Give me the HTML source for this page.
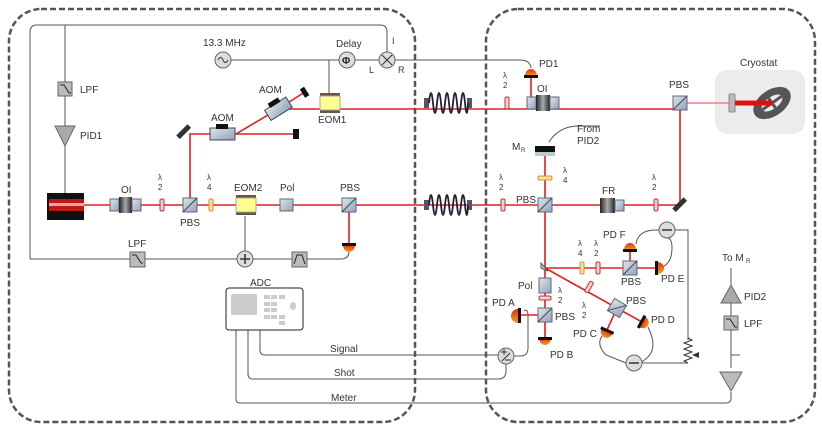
<!DOCTYPE html>
<html><head><meta charset="utf-8"><style>
html,body{margin:0;padding:0;background:#fff}
svg{display:block;font-family:"Liberation Sans",sans-serif}
</style></head><body>
<svg width="822" height="431" viewBox="0 0 822 431" xmlns="http://www.w3.org/2000/svg">
<defs>
<linearGradient id="pd" x1="0" y1="0" x2="0" y2="1"><stop offset="0" stop-color="#e03010"/><stop offset="1" stop-color="#f0a020"/></linearGradient>
<linearGradient id="cube" x1="0" y1="0" x2="1" y2="1"><stop offset="0" stop-color="#dfe6ee"/><stop offset="1" stop-color="#8ea3b8"/></linearGradient>
<linearGradient id="blk" x1="0" y1="0" x2="1" y2="0"><stop offset="0" stop-color="#222"/><stop offset=".5" stop-color="#aaa"/><stop offset="1" stop-color="#222"/></linearGradient>
<g id="cb"><rect x="-7" y="-7" width="14" height="14" fill="url(#cube)" stroke="#667"/><line x1="-7" y1="7" x2="7" y2="-7" stroke="#445" stroke-width="1"/></g>
<g id="wp2"><rect x="-2" y="-6" width="4" height="12" rx="1.5" fill="#f8d0d0" stroke="#c03030"/></g>
<g id="wp4"><rect x="-2" y="-6" width="4" height="12" rx="1.5" fill="#ffe0a0" stroke="#d09030"/></g>
<g id="pdl"><path d="M-6 0 h12 a6 7 0 0 1 -12 0z" fill="url(#pd)"/><rect x="-7" y="-2" width="14" height="3" fill="#111"/></g>
<g id="fiber"><rect x="-24" y="-5" width="5" height="10" fill="#556"/><rect x="19" y="-5" width="5" height="10" fill="#556"/><path d="M-19 0 q2 -20 4 0 q2 20 4 0 q2 -20 4 0 q2 20 4 0 q2 -20 4 0 q2 20 4 0 q2 -20 4 0 q2 20 4 0 q2 -20 4 0 q2 20 3 0" fill="none" stroke="#223" stroke-width="1.8"/></g>
<g id="eom"><rect x="-10" y="-10" width="20" height="3" fill="#654"/><rect x="-10" y="7" width="20" height="3" fill="#654"/><rect x="-10" y="-7" width="20" height="14" fill="#ffff90" stroke="#aa9"/></g>
</defs>
<rect x="9" y="9" width="406" height="413" rx="32" fill="none" stroke="#555" stroke-width="2.5" stroke-dasharray="6,3"/>
<rect x="486" y="9" width="329" height="413" rx="32" fill="none" stroke="#555" stroke-width="2.5" stroke-dasharray="6,3"/>
<rect x="715" y="70" width="90" height="64" rx="12" fill="#ececec"/>
<g fill="none" stroke="#555" stroke-width="1">
<path d="M30 259 V32 q0 -7 7 -7 H380 q7 0 7 7 V52"/>
<path d="M65 25 V193"/>
<path d="M231 60 H379 M329 60 V93"/>
<path d="M395 60 H520 q10 0 11 8"/>
<path d="M30 259 H341 q8 0 8 -8"/>
<path d="M245 216 V259"/>
<path d="M549 142 q10 -16 30 -16 H600"/>
<path d="M636 244 q2 -14 20 -14 H659 M675 230 H688 V340"/>
<path d="M660 268 q12 -4 12 -20 q0 -10 -5 -10"/>
<path d="M648 327 q10 20 0 30 l-6 5 M626 363 q-10 -4 -20 -8 q-10 -10 -4 -19"/>
<path d="M642 363 H688"/>
<path d="M740 355 H731 V268 M731 355 V368"/>
<path d="M731 392 V398 q0 5 -5 5 H240 q-4 0 -4 -4 V330"/>
<path d="M248 330 V374 q0 5 5 5 H498 q8 0 8 -8 V364"/>
<path d="M260 330 V350 q0 5 5 5 H498"/>
<path d="M514 356 H520 q8 0 8 -8 V316 q0 -8 -4 -5"/>
</g>
<path d="M688 338 l4 2 l-8 3 l8 3 l-8 3 l8 3 l-8 3 l8 3 l-8 3 l4 2" fill="none" stroke="#333"/>
<path d="M692 355 l7 -3 v6 z" fill="#333"/>
<g stroke="#e02020" stroke-width="1.6" fill="none">
<path d="M84 205 H680"/>
<path d="M190 205 V134 H296"/>
<path d="M236 134 L278 109 L305 92"/>
<path d="M278 109 H680 M531 103 V78"/>
<path d="M680 103 V205 M545 150 V268 M545 268 H655 M630 268 V250 M545 268 L642 322 M617 308 L607 330 M545 268 V338 M545 315 H518"/>
<path d="M349 205 V245"/>
</g>
<path d="M680 103 H732" stroke="#f08080" stroke-width="1.5"/>
<path d="M735 103 H772" stroke="#e01010" stroke-width="5"/>
<rect x="47" y="193" width="37" height="27" fill="#111"/>
<rect x="49" y="199" width="35" height="12" fill="#c01818"/><rect x="49" y="203" width="35" height="3" fill="#f0a0a0"/>
<rect x="58" y="82" width="14" height="14" fill="#bbb" stroke="#666"/><path d="M60 85 h4 l5 8 h2" stroke="#222" fill="none"/>
<text x="80" y="93" font-size="10" fill="#333">LPF</text>
<path d="M55 126 H75 L65 146 Z" fill="#aaa" stroke="#666"/><text x="80" y="139" font-size="10" fill="#333">PID1</text>
<rect x="110" y="199" width="9" height="12" fill="url(#cube)" stroke="#667"/><rect x="119" y="197" width="13" height="16" fill="url(#blk)"/><rect x="132" y="199" width="9" height="12" fill="url(#cube)" stroke="#667"/>
<text x="121" y="193" font-size="10" fill="#333">OI</text>
<use href="#wp2" x="162" y="205"/><text x="158" y="180" font-size="8" fill="#333">λ</text><text x="158" y="190" font-size="8" fill="#333">2</text>
<use href="#cb" x="190" y="205"/><text x="180" y="226" font-size="10" fill="#333">PBS</text>
<use href="#wp4" x="211" y="205"/><text x="207" y="180" font-size="8" fill="#333">λ</text><text x="207" y="190" font-size="8" fill="#333">4</text>
<use href="#eom" x="246" y="205"/><text x="234" y="191" font-size="10" fill="#333">EOM2</text>
<rect x="280" y="199" width="13" height="12" fill="url(#cube)" stroke="#667"/><text x="280" y="191" font-size="10" fill="#333">Pol</text>
<use href="#cb" x="349" y="205"/><text x="340" y="191" font-size="10" fill="#333">PBS</text>
<use href="#pdl" x="349" y="245"/>
<rect x="181" y="124" width="5" height="16" fill="#333" transform="rotate(45 184 132)"/>
<rect x="210" y="128" width="25" height="12" fill="url(#cube)" stroke="#445"/><rect x="216" y="124" width="12" height="5" fill="#111"/>
<text x="211" y="121" font-size="10" fill="#333">AOM</text>
<rect x="293" y="129" width="6" height="10" fill="#111"/>
<g transform="rotate(-32 278 109)"><rect x="266" y="103" width="25" height="12" fill="url(#cube)" stroke="#445"/><rect x="272" y="99" width="12" height="5" fill="#111"/></g>
<text x="259" y="93" font-size="10" fill="#333">AOM</text>
<rect x="302" y="87" width="5" height="10" fill="#111" transform="rotate(-32 305 92)"/>
<use href="#eom" x="330" y="103"/><text x="318" y="123" font-size="10" fill="#333">EOM1</text>
<circle cx="223" cy="60" r="8" fill="#ddd" stroke="#666"/><path d="M218 60 q2.5 -5 5 0 q2.5 5 5 0" fill="none" stroke="#333"/>
<text x="203" y="46" font-size="10" fill="#333">13.3 MHz</text>
<circle cx="347" cy="60" r="8" fill="#ddd" stroke="#666"/><text x="342" y="64" font-size="10" font-weight="bold" fill="#222">Φ</text>
<text x="336" y="47" font-size="10" fill="#333">Delay</text>
<circle cx="387" cy="60" r="8" fill="#ddd" stroke="#666"/><path d="M382 55 l10 10 m0 -10 l-10 10" stroke="#333"/>
<text x="369" y="73" font-size="9" fill="#333">L</text><text x="398" y="73" font-size="9" fill="#333">R</text><text x="392" y="44" font-size="9" fill="#333">I</text>
<rect x="130" y="252" width="15" height="15" fill="#bbb" stroke="#666"/><path d="M132 255 h4 l5 8 h2" stroke="#222" fill="none"/>
<text x="128" y="247" font-size="10" fill="#333">LPF</text>
<circle cx="245" cy="259" r="8" fill="#ddd" stroke="#666"/><path d="M240 259 h10 M245 254 v10" stroke="#333" stroke-width="1.5"/>
<rect x="292" y="252" width="15" height="15" fill="#bbb" stroke="#666"/><path d="M294 264 l3 -9 h5 l3 9" stroke="#222" fill="none"/>
<text x="250" y="286" font-size="10" fill="#333">ADC</text>
<rect x="226" y="288" width="77" height="42" rx="3" fill="#fff" stroke="#222"/>
<rect x="231" y="294" width="26" height="21" rx="2" fill="#ccc"/>
<g fill="#ccc"><rect x="264" y="295" width="6" height="4"/><rect x="271" y="295" width="6" height="4"/><rect x="279" y="295" width="6" height="4"/><rect x="264" y="302" width="6" height="4"/><rect x="271" y="302" width="6" height="4"/><rect x="264" y="308" width="6" height="4"/><rect x="271" y="308" width="6" height="4"/><rect x="264" y="315" width="6" height="4"/><rect x="271" y="315" width="6" height="4"/><rect x="279" y="315" width="6" height="4"/><rect x="279" y="321" width="6" height="4"/><ellipse cx="293" cy="306" rx="3" ry="4"/></g>
<text x="330" y="352" font-size="10" fill="#333">Signal</text>
<text x="334" y="376" font-size="10" fill="#333">Shot</text>
<text x="331" y="401" font-size="10" fill="#333">Meter</text>
<use href="#fiber" x="448" y="103"/><use href="#fiber" x="448" y="205"/>
<use href="#wp2" x="507" y="103"/><text x="503" y="78" font-size="8" fill="#333">λ</text><text x="503" y="88" font-size="8" fill="#333">2</text>
<rect x="527" y="97" width="9" height="12" fill="url(#cube)" stroke="#667"/><rect x="536" y="95" width="14" height="16" fill="url(#blk)"/><rect x="550" y="97" width="9" height="12" fill="url(#cube)" stroke="#667"/>
<text x="537" y="92" font-size="10" fill="#333">OI</text>
<path d="M525 76 a6 7 0 0 1 12 0z" fill="url(#pd)"/><rect x="524" y="75" width="14" height="3" fill="#111"/>
<text x="539" y="67" font-size="10" fill="#333">PD1</text>
<use href="#cb" x="680" y="103"/><text x="669" y="88" font-size="10" fill="#333">PBS</text>
<rect x="729" y="94" width="6" height="18" rx="1" fill="#bbb" stroke="#888"/>
<g transform="rotate(-35 772 103)"><ellipse cx="772" cy="103" rx="21" ry="13" fill="#555"/><ellipse cx="772" cy="103" rx="12" ry="6" fill="#ececec"/><path d="M760 103 H784 M772 97 V109" stroke="#555" stroke-width="3"/></g>
<path d="M735 103 H772" stroke="#e01010" stroke-width="5"/>
<text x="740" y="66" font-size="10" fill="#333">Cryostat</text>
<use href="#wp2" x="503" y="205"/><text x="499" y="180" font-size="8" fill="#333">λ</text><text x="499" y="190" font-size="8" fill="#333">2</text>
<use href="#cb" x="545" y="205"/><text x="516" y="203" font-size="10" fill="#333">PBS</text>
<rect x="535" y="146" width="20" height="8" fill="#111"/><rect x="535" y="152" width="20" height="4" fill="#bcc"/>
<text x="512" y="150" font-size="10" fill="#333">M</text><text x="521" y="152" font-size="6" fill="#333">R</text>
<text x="577" y="132" font-size="10" fill="#333">From</text><text x="577" y="144" font-size="10" fill="#333">PID2</text>
<rect x="538" y="176" width="14" height="4" rx="1.5" fill="#ffe0a0" stroke="#d09030"/><text x="563" y="173" font-size="8" fill="#333">λ</text><text x="563" y="183" font-size="8" fill="#333">4</text>
<rect x="600" y="198" width="15" height="15" fill="url(#blk)"/><rect x="615" y="200" width="9" height="11" fill="url(#cube)" stroke="#667"/>
<text x="602" y="194" font-size="10" fill="#333">FR</text>
<use href="#wp2" x="656" y="205"/><text x="652" y="180" font-size="8" fill="#333">λ</text><text x="652" y="190" font-size="8" fill="#333">2</text>
<rect x="677" y="197" width="5" height="16" fill="#333" transform="rotate(45 680 205)"/>
<path d="M541 263 l7 8 l-7 -3z" fill="#bcc" stroke="#556"/>
<use href="#wp4" x="582" y="268"/><use href="#wp2" x="598" y="268"/>
<text x="578" y="246" font-size="8" fill="#333">λ</text><text x="578" y="256" font-size="8" fill="#333">4</text><text x="594" y="246" font-size="8" fill="#333">λ</text><text x="594" y="256" font-size="8" fill="#333">2</text>
<use href="#cb" x="630" y="268"/><text x="621" y="285" font-size="10" fill="#333">PBS</text>
<path d="M624 250 a6 7 0 0 1 12 0z" fill="url(#pd)"/><rect x="623" y="249" width="14" height="3" fill="#111"/><text x="603" y="238" font-size="10" fill="#333">PD F</text>
<path d="M657 262 a7 6 0 0 1 0 12z" fill="url(#pd)"/><rect x="655" y="261" width="3" height="14" fill="#111"/><text x="661" y="282" font-size="10" fill="#333">PD E</text>
<circle cx="667" cy="230" r="8" fill="#ddd" stroke="#666"/><path d="M662 230 h10" stroke="#333" stroke-width="1.5"/>
<rect x="587" y="281" width="4" height="12" rx="1.5" fill="#f8d0d0" stroke="#c03030" transform="rotate(30 589 287)"/>
<text x="582" y="308" font-size="8" fill="#333">λ</text><text x="582" y="318" font-size="8" fill="#333">2</text>
<g transform="rotate(30 617 308)"><use href="#cb" x="617" y="308"/></g><text x="626" y="304" font-size="10" fill="#333">PBS</text>
<use href="#pdl" transform="translate(642 322) rotate(-61)"/>
<text x="651" y="323" font-size="10" fill="#333">PD D</text>
<use href="#pdl" transform="translate(607 331) rotate(24)"/>
<text x="573" y="337" font-size="10" fill="#333">PD C</text>
<circle cx="634" cy="363" r="8" fill="#ddd" stroke="#666"/><path d="M629 363 h10" stroke="#333" stroke-width="1.5"/>
<rect x="539" y="278" width="12" height="15" fill="url(#cube)" stroke="#667"/><text x="518" y="289" font-size="10" fill="#333">Pol</text>
<rect x="539" y="296" width="12" height="4" rx="1.5" fill="#f8d0d0" stroke="#c03030"/><text x="558" y="293" font-size="8" fill="#333">λ</text><text x="558" y="303" font-size="8" fill="#333">2</text>
<use href="#cb" x="545" y="315"/><text x="555" y="320" font-size="10" fill="#333">PBS</text>
<path d="M518 309 a7 7 0 0 0 0 14z" fill="url(#pd)"/><rect x="518" y="308" width="3" height="15" fill="#111"/><text x="492" y="306" font-size="10" fill="#333">PD A</text>
<path d="M539 338 a6 7 0 0 0 12 0z" fill="url(#pd)"/><rect x="538" y="337" width="14" height="3" fill="#111"/><text x="550" y="358" font-size="10" fill="#333">PD B</text>
<circle cx="506" cy="356" r="8" fill="#ddd" stroke="#666"/><path d="M501 352 h6 M504 349 v6 M502 361 l8 -8 M505 360 h6" stroke="#333"/>
<text x="722" y="261" font-size="10" fill="#333">To M</text><text x="746" y="263" font-size="6" fill="#333">R</text>
<path d="M721 303 L731 285 L741 303 Z" fill="#aaa" stroke="#666"/><text x="744" y="300" font-size="10" fill="#333">PID2</text>
<rect x="724" y="316" width="14" height="14" fill="#bbb" stroke="#666"/><path d="M726 319 h4 l5 8 h2" stroke="#222" fill="none"/><text x="744" y="327" font-size="10" fill="#333">LPF</text>
<path d="M720 372 H742 L731 391 Z" fill="#bbb" stroke="#666"/>
</svg>
</body></html>
